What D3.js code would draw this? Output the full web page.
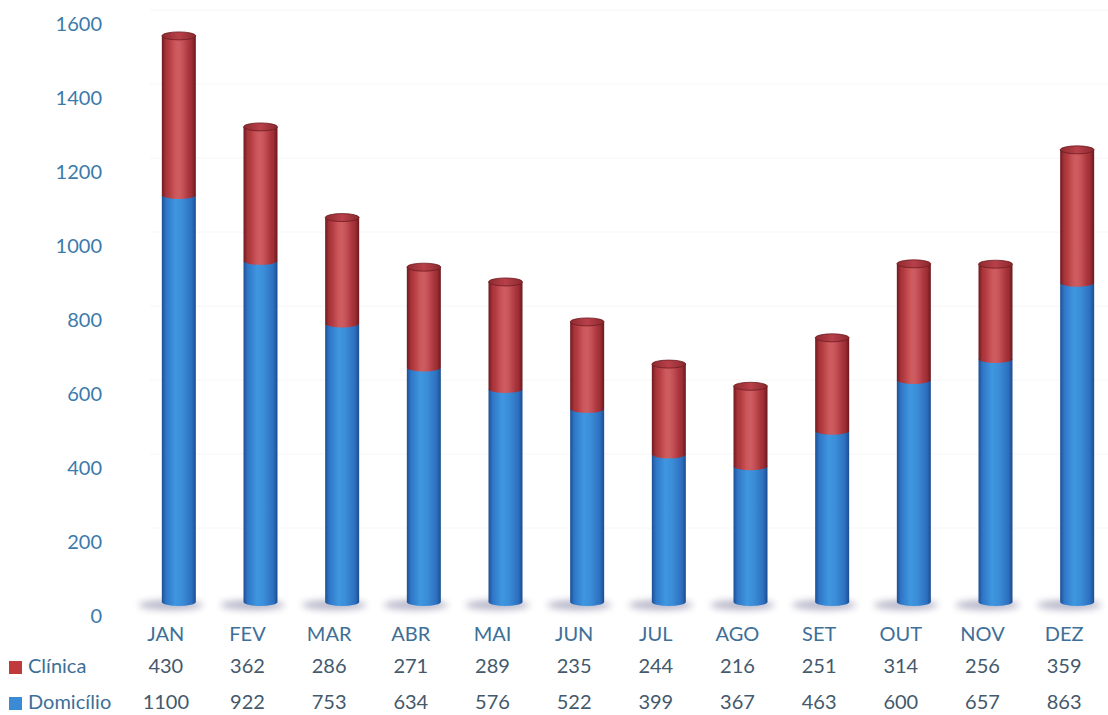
<!DOCTYPE html>
<html>
<head>
<meta charset="utf-8">
<script src="https://cdn.jsdelivr.net/npm/d3@7"></script>
<style>
  html, body { margin: 0; padding: 0; background: #ffffff; }
  svg { display: block; font-family: Lato, "Open Sans", sans-serif; }
</style>
</head>
<body>
<svg id="chart" width="1108" height="715"></svg>
<script>
// Monthly attendances, stacked: home (Domicílio) at the bottom, clinic (Clínica) on top
const months = ["JAN", "FEV", "MAR", "ABR", "MAI", "JUN", "JUL", "AGO", "SET", "OUT", "NOV", "DEZ"];
const clinica = [430, 362, 286, 271, 289, 235, 244, 216, 251, 314, 256, 359];
const domicilio = [1100, 922, 753, 634, 576, 522, 399, 367, 463, 600, 657, 863];
const yTicks = [0, 200, 400, 600, 800, 1000, 1200, 1400, 1600];
const seriesNames = ["Clínica", "Domicílio"];

const svg = d3.select("#chart");
const defs = svg.append("defs");

const x = d3.scaleBand().domain(months).range([125, 1105]).padding(0);
const y = d3.scaleLinear().domain([0, 1600]).range([615, 23]);

// 3D depth: columns sit on the back of the floor, shifted right and up
const depthX = 13, depthY = -13;
const barW = 34, rx = barW / 2, ry = 4;

// gradients for the cylinder bodies
function hGrad(id, stops) {
  const g = defs.append("linearGradient").attr("id", id)
    .attr("x1", "0%").attr("x2", "100%").attr("y1", "0%").attr("y2", "0%");
  stops.forEach(s => g.append("stop").attr("offset", s[0]).attr("stop-color", s[1]));
}
hGrad("gBlue", [["0%", "#1d4f93"], ["12%", "#2f76c6"], ["40%", "#3f97e0"], ["60%", "#3b8dd8"], ["88%", "#2c6fbe"], ["100%", "#1c4c8f"]]);
hGrad("gRed", [["0%", "#6e1a20"], ["12%", "#a8343a"], ["40%", "#c94a4d"], ["60%", "#c2444a"], ["88%", "#9e2f35"], ["100%", "#6a191e"]]);
hGrad("gRedTop", [["0%", "#8e2a2f"], ["50%", "#b8404a"], ["100%", "#8a282e"]]);

// soft sheen down the middle of the red segments
const sheen = defs.append("linearGradient").attr("id", "gSheen")
  .attr("x1", "0%").attr("x2", "100%").attr("y1", "0%").attr("y2", "0%");
sheen.append("stop").attr("offset", "20%").attr("stop-color", "#ffffff").attr("stop-opacity", 0);
sheen.append("stop").attr("offset", "50%").attr("stop-color", "#ffffff").attr("stop-opacity", 0.12);
sheen.append("stop").attr("offset", "80%").attr("stop-color", "#ffffff").attr("stop-opacity", 0);

const blur = defs.append("filter").attr("id", "fShadow")
  .attr("x", "-50%").attr("y", "-200%").attr("width", "200%").attr("height", "500%");
blur.append("feGaussianBlur").attr("stdDeviation", 3.5);

// faint gridlines
svg.append("g").selectAll("line").data(yTicks.slice(1)).join("line")
  .attr("x1", 150).attr("x2", 1108)
  .attr("y1", d => y(d) + depthY).attr("y2", d => y(d) + depthY)
  .attr("stroke", "#f6f6f8").attr("stroke-width", 1);

// y axis labels
const yAxis = d3.axisLeft(y).tickValues(yTicks).tickFormat(d3.format("d")).tickSize(0).tickPadding(0);
const gy = svg.append("g").attr("transform", "translate(102,0)").call(yAxis);
gy.select(".domain").remove();
gy.selectAll("text")
  .attr("font-family", "Lato, 'Open Sans', sans-serif")
  .attr("font-size", 20).attr("fill", "#3b7bab").attr("dy", "0.35em");

const cx = m => x(m) + x.bandwidth() / 2 + depthX;

// floor shadows
svg.append("g").selectAll("ellipse").data(months).join("ellipse")
  .attr("cx", m => cx(m) - 8)
  .attr("cy", y(0) + depthY + 3)
  .attr("rx", 32).attr("ry", 5)
  .attr("fill", "#7d7a9c").attr("opacity", 0.55)
  .attr("filter", "url(#fShadow)");

// cylinder segment: side body with a rounded bottom front edge
function bodyPath(c, yTop, yBot) {
  const x0 = c - rx, x1 = c + rx;
  return `M${x0},${yTop} L${x0},${yBot} A${rx},${ry} 0 0 0 ${x1},${yBot} L${x1},${yTop} Z`;
}

const bars = svg.append("g").selectAll("g").data(months).join("g");

// Domicílio (lower segment)
bars.append("path")
  .attr("d", (m, i) => bodyPath(cx(m), y(domicilio[i]) + depthY, y(0) + depthY))
  .attr("fill", "url(#gBlue)");

// Clínica (upper segment)
bars.append("path")
  .attr("d", (m, i) => bodyPath(cx(m), y(domicilio[i] + clinica[i]) + depthY, y(domicilio[i]) + depthY))
  .attr("fill", "url(#gRed)");
bars.append("path")
  .attr("d", (m, i) => bodyPath(cx(m), y(domicilio[i] + clinica[i]) + depthY, y(domicilio[i]) + depthY))
  .attr("fill", "url(#gSheen)");

// top caps
bars.append("ellipse")
  .attr("cx", m => cx(m))
  .attr("cy", (m, i) => y(domicilio[i] + clinica[i]) + depthY)
  .attr("rx", rx).attr("ry", ry)
  .attr("fill", "url(#gRedTop)")
  .attr("stroke", "#6e1c22").attr("stroke-width", 0.8);

// data table under the chart
const table = svg.append("g").attr("font-family", "Lato, 'Open Sans', sans-serif").attr("font-size", 20);
const colX = m => x(m) + x.bandwidth() / 2;
const rowY = { month: 634, cli: 666, dom: 702 };

table.selectAll("text.month").data(months).join("text")
  .attr("class", "month")
  .attr("x", colX).attr("y", rowY.month).attr("dy", "0.35em")
  .attr("text-anchor", "middle").attr("fill", "#3d6f97")
  .text(d => d);

table.selectAll("text.cli").data(clinica).join("text")
  .attr("class", "cli")
  .attr("x", (d, i) => colX(months[i])).attr("y", rowY.cli).attr("dy", "0.35em")
  .attr("text-anchor", "middle").attr("fill", "#44596c")
  .text(d => d);

table.selectAll("text.dom").data(domicilio).join("text")
  .attr("class", "dom")
  .attr("x", (d, i) => colX(months[i])).attr("y", rowY.dom).attr("dy", "0.35em")
  .attr("text-anchor", "middle").attr("fill", "#44596c")
  .text(d => d);

// row keys
const keyColors = ["#c0393d", "#3a8ad6"];
const keyY = [rowY.cli + 1, rowY.dom + 1];
seriesNames.forEach((name, i) => {
  table.append("rect")
    .attr("x", 9).attr("y", keyY[i] - 6).attr("width", 13).attr("height", 13)
    .attr("fill", keyColors[i]);
  table.append("text")
    .attr("x", 28).attr("y", keyY[i] - 1).attr("dy", "0.35em")
    .attr("fill", "#3d6f97")
    .text(name);
});
</script>
</body>
</html>
